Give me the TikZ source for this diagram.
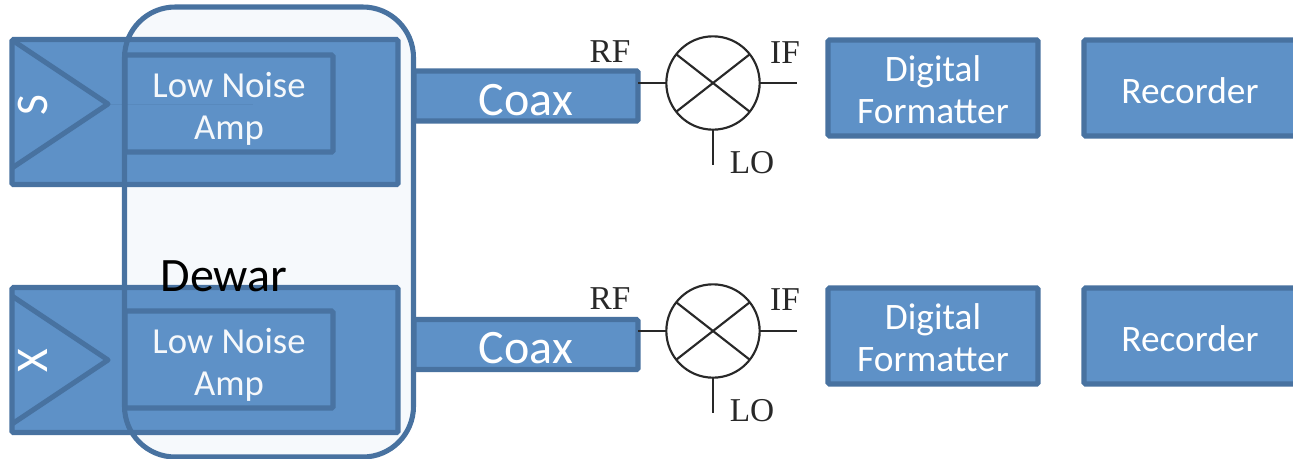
\documentclass[tikz,border=0pt]{standalone}
\usepackage{fontspec}
\setmainfont{Carlito}
\newfontfamily\labelfont{Liberation Serif}
\definecolor{boxfill}{RGB}{94,145,199}
\definecolor{boxline}{RGB}{72,114,160}
\definecolor{mixline}{RGB}{40,40,40}
\newcommand{\lowered}[2]{\raisebox{-#1}[\height][\depth]{#2}}
\tikzset{every picture/.style={line width=0.75pt}}
\tikzset{
  bluebox/.style={draw=boxline,fill=boxfill,line width=3.8pt,rounded corners=1pt,text=white,align=center,inner sep=0pt,outer sep=0pt},
  boxsize/.style 2 args={minimum width=#1*0.75pt,minimum height=#2*0.75pt},
  mixer/.style={circle,draw=mixline,line width=1.6pt,minimum size=70pt,inner sep=0pt,outer sep=0pt},
  mixwire/.style={draw=mixline,line width=1.6pt},
  portlabel/.style={font=\labelfont\fontsize{25}{25}\selectfont,text=mixline,inner sep=0pt},
  boxtext/.style={font=\fontsize{28}{31.5}\selectfont},
  coaxtext/.style={font=\fontsize{36}{36}\selectfont},
  bandtext/.style={font=\fontsize{34}{34}\selectfont,text=white,inner sep=0pt}
}
\begin{document}
\begin{tikzpicture}[x=0.75pt,y=0.75pt,yscale=-1,xscale=1]
\useasboundingbox (0,0) rectangle (1293,458);

%S band
\node [bluebox,boxsize={386}{145}] (bandS) at (205,112) {};
\node [bluebox,boxsize={208}{97}] (lnaS) at (229,103.5) {};
\node [inner sep=0pt] (lnaStext) at (229,110) {\color{white}\fontsize{27.5}{31.5}\selectfont\begin{tabular}{@{}c@{}}Low Noise\\Amp\end{tabular}};
\coordinate (triStop) at (12,40);
\coordinate (triSbot) at (12,168);
\coordinate (triStip) at (108,104);
\draw [draw=boxline,line width=3.8pt,line join=round] (triStop) -- (triStip) -- (triSbot);
\coordinate (tipSend) at (253,104);
\draw [draw=boxline,opacity=0.25,line width=0.6pt] (triStip) -- (tipSend);
\node [bandtext,rotate=90] (nameS) at (33,105) {S};

%X band
\node [bluebox,boxsize={386}{145}] (bandX) at (205,360) {};
\node [bluebox,boxsize={208}{97}] (lnaX) at (229,359.5) {};
\node [inner sep=0pt] (lnaXtext) at (229,366) {\color{white}\fontsize{27.5}{31.5}\selectfont\begin{tabular}{@{}c@{}}Low Noise\\Amp\end{tabular}};
\coordinate (triXtop) at (12,296);
\coordinate (triXbot) at (12,424);
\coordinate (triXtip) at (108,360);
\draw [draw=boxline,line width=3.8pt,line join=round] (triXtop) -- (triXtip) -- (triXbot);
\node [bandtext,rotate=90] (nameX) at (33,361) {X};

%Dewar
\node [draw=boxline,fill=boxfill,fill opacity=0.06,draw opacity=1,line width=3.8pt,rounded corners=38pt,boxsize={289}{450},inner sep=0pt,outer sep=0pt] (dewar) at (269,232) {};
\node [font=\fontsize{36}{36}\selectfont,text=black,inner sep=0pt] (dewarname) at (224,276) {Dewar};

%Coax
\node [bluebox,boxsize={224}{50},coaxtext] (coaxS) at (526,96) {\lowered{3pt}{Coax}};
\node [bluebox,boxsize={224}{50},coaxtext] (coaxX) at (526,344.5) {\lowered{3pt}{Coax}};

%Mixers
\node [mixer] (mixS) at (713,83) {};
\draw [mixwire] (mixS.38) -- (mixS.218);
\draw [mixwire] (mixS.142) -- (mixS.322);
\coordinate (ifS) at (797,83);
\coordinate (loS) at (713,165);
\draw [mixwire] (coaxS.east |- mixS.west) -- (mixS.west);
\draw [mixwire] (mixS.east) -- (ifS);
\draw [mixwire] (mixS.south) -- (loS);
\node [mixer] (mixX) at (713,331) {};
\draw [mixwire] (mixX.38) -- (mixX.218);
\draw [mixwire] (mixX.142) -- (mixX.322);
\coordinate (ifX) at (797,331);
\coordinate (loX) at (713,413);
\draw [mixwire] (coaxX.east |- mixX.west) -- (mixX.west);
\draw [mixwire] (mixX.east) -- (ifX);
\draw [mixwire] (mixX.south) -- (loX);

% Text Node
\node [portlabel] (rfS) at (610,52) {RF};
\node [portlabel] (ifSname) at (785,53) {IF};
\node [portlabel] (loSname) at (752,163) {LO};
\node [portlabel] (rfX) at (610,299) {RF};
\node [portlabel] (ifXname) at (785,300) {IF};
\node [portlabel] (loXname) at (752,411) {LO};

%Back end
\node [bluebox,boxsize={210}{96},boxtext] (fmtS) at (933,88) {\lowered{1.5pt}{Digital}\\\lowered{1.5pt}{Formatter}};
\node [bluebox,boxsize={210}{96},boxtext] (fmtX) at (933,336) {\lowered{1.5pt}{Digital}\\\lowered{1.5pt}{Formatter}};
\node [bluebox,boxsize={212}{96},boxtext] (recS) at (1190,88) {\lowered{2.25pt}{Recorder}};
\node [bluebox,boxsize={212}{96},boxtext] (recX) at (1190,336) {\lowered{2.25pt}{Recorder}};

\end{tikzpicture}
\end{document}
